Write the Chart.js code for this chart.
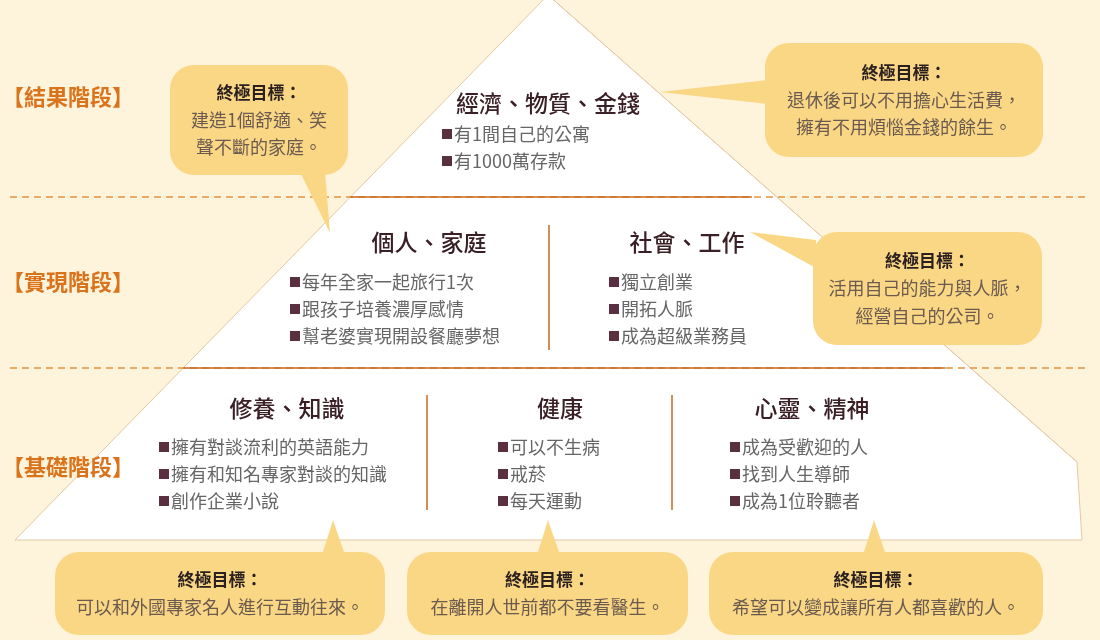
<!DOCTYPE html>
<html><head><meta charset="utf-8">
<script src="https://cdn.jsdelivr.net/npm/chart.js@4"></script>
<style>html,body{margin:0;padding:0;background:#fef4dc;}#w{width:1100px;height:640px;}</style>
</head><body><div id="w"><canvas id="c"></canvas></div>
<script>
// ---- data ----
const pyramidX = [548, 1077, 1082, 15, 548];
const pyramidY = [-5, 462, 540, 540, -5];
const stageLabels = ['【結果階段】','【實現階段】','【基礎階段】'];
const stageY = [97, 282, 467];
const sectionTitles = ['經濟、物質、金錢','個人、家庭','社會、工作','修養、知識','健康','心靈、精神'];
const sectionTitleX = [548, 429, 687, 287, 560, 812];
const sectionTitleY = [103, 242, 242, 408, 408, 408];
const sectionItems = [
  ['有1間自己的公寓','有1000萬存款'],
  ['每年全家一起旅行1次','跟孩子培養濃厚感情','幫老婆實現開設餐廳夢想'],
  ['獨立創業','開拓人脈','成為超級業務員'],
  ['擁有對談流利的英語能力','擁有和知名專家對談的知識','創作企業小說'],
  ['可以不生病','戒菸','每天運動'],
  ['成為受歡迎的人','找到人生導師','成為1位聆聽者']
];
const itemX = [443, 291, 610, 160, 499, 731];
const itemY0 = [134, 282, 282, 447, 447, 447];
const goalTitle = '終極目標：';
const goalTexts = [
  ['建造1個舒適、笑','聲不斷的家庭。'],
  ['退休後可以不用擔心生活費，','擁有不用煩惱金錢的餘生。'],
  ['活用自己的能力與人脈，','經營自己的公司。'],
  ['可以和外國專家名人進行互動往來。'],
  ['在離開人世前都不要看醫生。'],
  ['希望可以變成讓所有人都喜歡的人。']
];
const bubbleBox = [[170,65,348,175],[765,43,1043,157],[813,232,1042,345],[55,552,385,635],[407,552,688,635],[709,552,1043,635]];
const bubbleTail = [[[300,172],[330,233],[325,172]],[[768,80],[660,92],[768,104]],[[816,240],[750,232],[816,268]],[[322,555],[333,520],[345,555]],[[537,555],[548,520],[560,555]],[[863,555],[874,520],[886,555]]];
const dividerY = [197, 368];
const vDividers = [[549,225,350],[427,395,510],[672,395,510]];

const F = '"Noto Sans CJK TC","Noto Sans CJK SC",sans-serif';
const drawPlugin = {
  id:'info',
  beforeDatasetsDraw(chart){
    const ctx = chart.ctx, sx = chart.scales.x, sy = chart.scales.y;
    ctx.save(); ctx.fillStyle='#ffffff'; ctx.beginPath();
    pyramidX.forEach((x,i)=>{const px=sx.getPixelForValue(x),py=sy.getPixelForValue(pyramidY[i]); i?ctx.lineTo(px,py):ctx.moveTo(px,py);});
    ctx.closePath(); ctx.fill(); ctx.restore();
  },
  afterDatasetsDraw(chart){
    const ctx = chart.ctx, sx = chart.scales.x, sy = chart.scales.y;
    const X = v=>sx.getPixelForValue(v), Y = v=>sy.getPixelForValue(v);
    ctx.save();
    ctx.strokeStyle='#e8c9a8'; ctx.lineWidth=1;
    ctx.beginPath(); ctx.moveTo(X(548),Y(-5)); ctx.lineTo(X(1077),Y(462)); ctx.stroke();
    dividerY.forEach(y=>{
      ctx.setLineDash([7,5]); ctx.strokeStyle='#e3923f'; ctx.lineWidth=1.5;
      ctx.beginPath(); ctx.moveTo(X(10),Y(y)); ctx.lineTo(X(1088),Y(y)); ctx.stroke();
      ctx.setLineDash([]);
      const t = (y+5)/545, l = 548+(15-548)*t; const r = 548+(1077-548)*((y+5)/467);
      ctx.strokeStyle='#c8691f'; ctx.beginPath(); ctx.moveTo(X(l),Y(y)); ctx.lineTo(X(Math.min(r,1077)-25),Y(y)); ctx.stroke();
    });
    ctx.strokeStyle='#c8691f'; ctx.lineWidth=1.5;
    vDividers.forEach(d=>{ctx.beginPath();ctx.moveTo(X(d[0]),Y(d[1]));ctx.lineTo(X(d[0]),Y(d[2]));ctx.stroke();});
    ctx.fillStyle='#d9731c'; ctx.font='bold 22px '+F; ctx.textBaseline='middle'; ctx.textAlign='left';
    stageLabels.forEach((s,i)=>ctx.fillText(s,X(2),Y(stageY[i])));
    ctx.fillStyle='#3a2026'; ctx.font='500 23px '+F; ctx.textAlign='center';
    sectionTitles.forEach((s,i)=>ctx.fillText(s,X(sectionTitleX[i]),Y(sectionTitleY[i])));
    ctx.font='18px '+F; ctx.textAlign='left';
    sectionItems.forEach((arr,i)=>arr.forEach((s,j)=>{
      const x=X(itemX[i]), y=Y(itemY0[i]+j*27);
      ctx.fillStyle='#5a3040'; ctx.fillRect(x-1,y-5,10,10);
      ctx.fillStyle='#666666'; ctx.fillText(s,x+11,y);
    }));
    bubbleBox.forEach((b,i)=>{
      ctx.fillStyle='#fad784';
      ctx.beginPath(); ctx.roundRect(X(b[0]),Y(b[1]),X(b[2])-X(b[0]),Y(b[3])-Y(b[1]),24); ctx.fill();
      const t=bubbleTail[i]; ctx.beginPath(); ctx.moveTo(X(t[0][0]),Y(t[0][1]));
      t.slice(1).forEach(p=>ctx.lineTo(X(p[0]),Y(p[1]))); ctx.closePath(); ctx.fill();
      const cx=(b[0]+b[2])/2, lines=goalTexts[i];
      const n=lines.length+1, lh=27.5, mid=(b[1]+b[3])/2, top=mid-(n-1)*lh/2;
      ctx.textAlign='center';
      ctx.fillStyle='#2a2020'; ctx.font='bold 17px '+F; ctx.fillText(goalTitle,X(cx),Y(top));
      ctx.fillStyle='#6a5a50'; ctx.font='18px '+F;
      lines.forEach((s,j)=>ctx.fillText(s,X(cx),Y(top+(j+1)*lh)));
    });
    ctx.restore();
  }
};
new Chart(document.getElementById('c'),{
  type:'scatter',
  data:{datasets:[{data:pyramidX.map((x,i)=>({x,y:pyramidY[i]})),showLine:true,fill:false,
    borderColor:'#e3c7a2',borderWidth:1,pointRadius:0,tension:0}]},
  options:{responsive:true,maintainAspectRatio:false,animation:false,
    layout:{padding:0},
    plugins:{legend:{display:false},tooltip:{enabled:false}},
    scales:{x:{type:'linear',min:0,max:1100,display:false},y:{type:'linear',min:0,max:640,reverse:true,display:false}}},
  plugins:[drawPlugin]
});
</script></body></html>
